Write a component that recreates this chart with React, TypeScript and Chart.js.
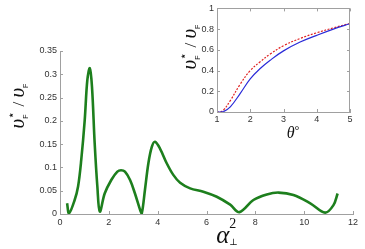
import { useEffect, useRef } from "react";
import { Chart, registerables } from "chart.js";

Chart.register(...registerables);

// ---- Main plot data: v*_F / v_F versus alpha_perp^2 ----
const alphaSq = [0.29, 0.37, 0.6, 0.74, 0.87, 1.01, 1.12, 1.22, 1.31, 1.42, 1.53, 1.63, 1.83, 2.1, 2.35, 2.5, 2.66, 2.87, 3.07, 3.28, 3.35, 3.48, 3.62, 3.76, 3.89, 4.1, 4.37, 4.64, 4.92, 5.33, 5.87, 6.42, 6.97, 7.35, 7.92, 8.47, 8.95, 9.56, 10.25, 10.86, 11.2, 11.37];
const ratio = [0.023, 0.0015, 0.03, 0.059, 0.116, 0.2, 0.288, 0.313, 0.273, 0.152, 0.059, 0.005, 0.044, 0.073, 0.091, 0.094, 0.091, 0.073, 0.044, 0.009, 0.0015, 0.052, 0.109, 0.144, 0.155, 0.14, 0.109, 0.084, 0.067, 0.055, 0.048, 0.037, 0.02, 0.004, 0.03, 0.042, 0.046, 0.041, 0.023, 0.003, 0.019, 0.044];
const mainXTicks = [0, 2, 4, 6, 8, 10, 12];
const mainYTicks = [0, 0.05, 0.1, 0.15, 0.2, 0.25, 0.3, 0.35];

// ---- Inset data: v*_F / v_F versus theta ----
const theta = [1, 1.1, 1.2, 1.4, 1.7, 2.0, 2.3, 2.6, 3.0, 3.5, 4.0, 4.5, 5.0];
const ratioRed = [0, 0, 0.02, 0.11, 0.27, 0.4, 0.485, 0.56, 0.64, 0.71, 0.765, 0.812, 0.855];
const ratioBlue = [0, 0, 0.005, 0.05, 0.18, 0.32, 0.42, 0.5, 0.59, 0.675, 0.74, 0.8, 0.852];
const insetXTicks = [1, 2, 3, 4, 5];
const insetYTicks = [0, 0.2, 0.4, 0.6, 0.8, 1];

const TICK_FONT = { family: "'Liberation Sans', Arial, sans-serif", size: 9 };
const TICK_COLOR = "#333";
const AXIS_COLOR = "#a0a0a0";

type Piece = { t: string; font: string; dy: number };
type Item = Piece[];

function drawRich(ctx: CanvasRenderingContext2D, items: Item[], x: number, y: number, rot: number) {
  ctx.save();
  ctx.fillStyle = "#111";
  ctx.textBaseline = "alphabetic";
  ctx.textAlign = "left";
  const widths = items.map((it) =>
    Math.max(
      ...it.map((p) => {
        ctx.font = p.font;
        return ctx.measureText(p.t).width;
      })
    )
  );
  const total = widths.reduce((a, b) => a + b, 0);
  ctx.translate(x, y);
  ctx.rotate(rot);
  let cx = -total / 2;
  items.forEach((it, i) => {
    it.forEach((p) => {
      ctx.font = p.font;
      ctx.fillText(p.t, cx, p.dy);
    });
    cx += widths[i];
  });
  ctx.restore();
}

const SERIF_I = (s: number) => `italic ${s}px 'Liberation Serif', 'DejaVu Serif', serif`;
const SERIF = (s: number) => `${s}px 'Liberation Serif', 'DejaVu Serif', serif`;
const SANS = (s: number) => `${s}px 'Liberation Sans', Arial, sans-serif`;

const vTitle: Item[] = [
  [{ t: "υ", font: SERIF_I(21), dy: 0 }],
  [
    { t: "⋆", font: SERIF(12), dy: -9 },
    { t: "F", font: SANS(7), dy: 4 },
  ],
  [{ t: " / ", font: SERIF(17), dy: 0 }],
  [{ t: "υ", font: SERIF_I(21), dy: 0 }],
  [{ t: "F", font: SANS(7), dy: 4 }],
];

function inwardTicks(chart: any, box: boolean) {
  const ctx = chart.ctx as CanvasRenderingContext2D;
  const a = chart.chartArea;
  const xs = chart.scales.x;
  const ys = chart.scales.y;
  ctx.save();
  ctx.strokeStyle = AXIS_COLOR;
  ctx.lineWidth = 1;
  ctx.beginPath();
  xs.ticks.forEach((t: any) => {
    const px = Math.round(xs.getPixelForValue(t.value)) + 0.5;
    ctx.moveTo(px, a.bottom);
    ctx.lineTo(px, a.bottom - 3);
    if (box) {
      ctx.moveTo(px, a.top);
      ctx.lineTo(px, a.top + 3);
    }
  });
  ys.ticks.forEach((t: any) => {
    const py = Math.round(ys.getPixelForValue(t.value)) + 0.5;
    ctx.moveTo(a.left, py);
    ctx.lineTo(a.left + 3, py);
    if (box) {
      ctx.moveTo(a.right, py);
      ctx.lineTo(a.right - 3, py);
    }
  });
  if (box) {
    ctx.moveTo(a.left, Math.round(a.top) + 0.5);
    ctx.lineTo(a.right, Math.round(a.top) + 0.5);
    ctx.moveTo(Math.round(a.right) - 0.5, a.top);
    ctx.lineTo(Math.round(a.right) - 0.5, a.bottom);
  }
  ctx.stroke();
  ctx.restore();
}

function fmt(v: number) {
  return String(+Number(v).toFixed(2));
}

export default function App() {
  const mainRef = useRef<HTMLCanvasElement>(null);
  const insetRef = useRef<HTMLCanvasElement>(null);

  useEffect(() => {
    const mainChart = new Chart(mainRef.current!, {
      type: "line",
      data: {
        datasets: [
          {
            data: alphaSq.map((x, i) => ({ x, y: ratio[i] })),
            borderColor: "#1d7f1d",
            borderWidth: 2.6,
            pointRadius: 0,
            tension: 0.35,
            fill: false,
          },
        ],
      },
      options: {
        animation: false,
        responsive: false,
        devicePixelRatio: 1,
        layout: { padding: { left: 0, top: 51, right: 12, bottom: 0 } },
        plugins: { legend: { display: false }, tooltip: { enabled: false } },
        scales: {
          x: {
            type: "linear",
            min: mainXTicks[0],
            max: mainXTicks[mainXTicks.length - 1],
            afterBuildTicks: (s: any) => {
              s.ticks = mainXTicks.map((value) => ({ value }));
            },
            afterFit: (s: any) => {
              s.height = 35;
            },
            grid: { display: false, drawTicks: false },
            border: { display: true, color: AXIS_COLOR },
            ticks: { font: TICK_FONT, color: TICK_COLOR, padding: 3, maxRotation: 0, callback: (v: any) => fmt(v) },
          },
          y: {
            type: "linear",
            min: mainYTicks[0],
            max: mainYTicks[mainYTicks.length - 1],
            afterBuildTicks: (s: any) => {
              s.ticks = mainYTicks.map((value) => ({ value }));
            },
            afterFit: (s: any) => {
              s.width = 60;
            },
            grid: { display: false, drawTicks: false },
            border: { display: true, color: AXIS_COLOR },
            ticks: { font: TICK_FONT, color: TICK_COLOR, padding: 3, callback: (v: any) => fmt(v) },
          },
        },
      },
      plugins: [
        {
          id: "mainDecor",
          afterDraw(chart: any) {
            inwardTicks(chart, false);
            const ctx = chart.ctx as CanvasRenderingContext2D;
            drawRich(ctx, vTitle, 24, 106, -Math.PI / 2);
            drawRich(
              ctx,
              [
                [{ t: "α", font: SERIF_I(25), dy: 0 }],
                [
                  { t: "2", font: SERIF(14), dy: -15 },
                  { t: "⊥", font: SERIF(9), dy: 2 },
                ],
              ],
              227,
              243,
              0
            );
          },
        },
      ],
    } as any);

    const insetChart = new Chart(insetRef.current!, {
      type: "line",
      data: {
        datasets: [
          {
            data: theta.map((x, i) => ({ x, y: ratioBlue[i] })),
            borderColor: "#2b2bd8",
            borderWidth: 1.2,
            pointRadius: 0,
            tension: 0.4,
            fill: false,
          },
          {
            data: theta.map((x, i) => ({ x, y: ratioRed[i] })),
            borderColor: "#e02020",
            borderWidth: 1.2,
            borderDash: [2, 1.5],
            pointRadius: 0,
            tension: 0.4,
            fill: false,
          },
        ],
      },
      options: {
        animation: false,
        responsive: false,
        devicePixelRatio: 1,
        layout: { padding: { left: 180, top: 6, right: 15, bottom: 100 } },
        plugins: { legend: { display: false }, tooltip: { enabled: false } },
        scales: {
          x: {
            type: "linear",
            min: insetXTicks[0],
            max: insetXTicks[insetXTicks.length - 1],
            afterBuildTicks: (s: any) => {
              s.ticks = insetXTicks.map((value) => ({ value }));
            },
            afterFit: (s: any) => {
              s.height = 37;
            },
            grid: { display: false, drawTicks: false },
            border: { display: true, color: AXIS_COLOR },
            ticks: { font: TICK_FONT, color: TICK_COLOR, padding: 2, maxRotation: 0, callback: (v: any) => fmt(v) },
          },
          y: {
            type: "linear",
            min: insetYTicks[0],
            max: insetYTicks[insetYTicks.length - 1],
            afterBuildTicks: (s: any) => {
              s.ticks = insetYTicks.map((value) => ({ value }));
            },
            afterFit: (s: any) => {
              s.width = 37;
            },
            grid: { display: false, drawTicks: false },
            border: { display: true, color: AXIS_COLOR },
            ticks: { font: TICK_FONT, color: TICK_COLOR, padding: 3, callback: (v: any) => fmt(v) },
          },
        },
      },
      plugins: [
        {
          id: "insetBg",
          beforeDraw(chart: any) {
            const a = chart.chartArea;
            const ctx = chart.ctx as CanvasRenderingContext2D;
            ctx.save();
            ctx.fillStyle = "#fff";
            ctx.fillRect(a.left, a.top, a.right - a.left, a.bottom - a.top);
            ctx.restore();
          },
          afterDraw(chart: any) {
            inwardTicks(chart, true);
            const ctx = chart.ctx as CanvasRenderingContext2D;
            drawRich(ctx, vTitle, 196, 47, -Math.PI / 2);
            drawRich(
              ctx,
              [
                [{ t: "θ", font: SERIF_I(16), dy: 0 }],
                [{ t: "°", font: SERIF(12), dy: -4 }],
              ],
              293,
              138,
              0
            );
          },
        },
      ],
    } as any);

    return () => {
      mainChart.destroy();
      insetChart.destroy();
    };
  }, []);

  const canvasStyle: any = { position: "absolute", left: 0, top: 0, width: 365, height: 249 };
  return (
    <div style={{ position: "fixed", left: 0, top: 0, width: 365, height: 249, background: "#fff" }}>
      <canvas ref={mainRef} width={365} height={249} style={canvasStyle} />
      <canvas ref={insetRef} width={365} height={249} style={canvasStyle} />
    </div>
  );
}
